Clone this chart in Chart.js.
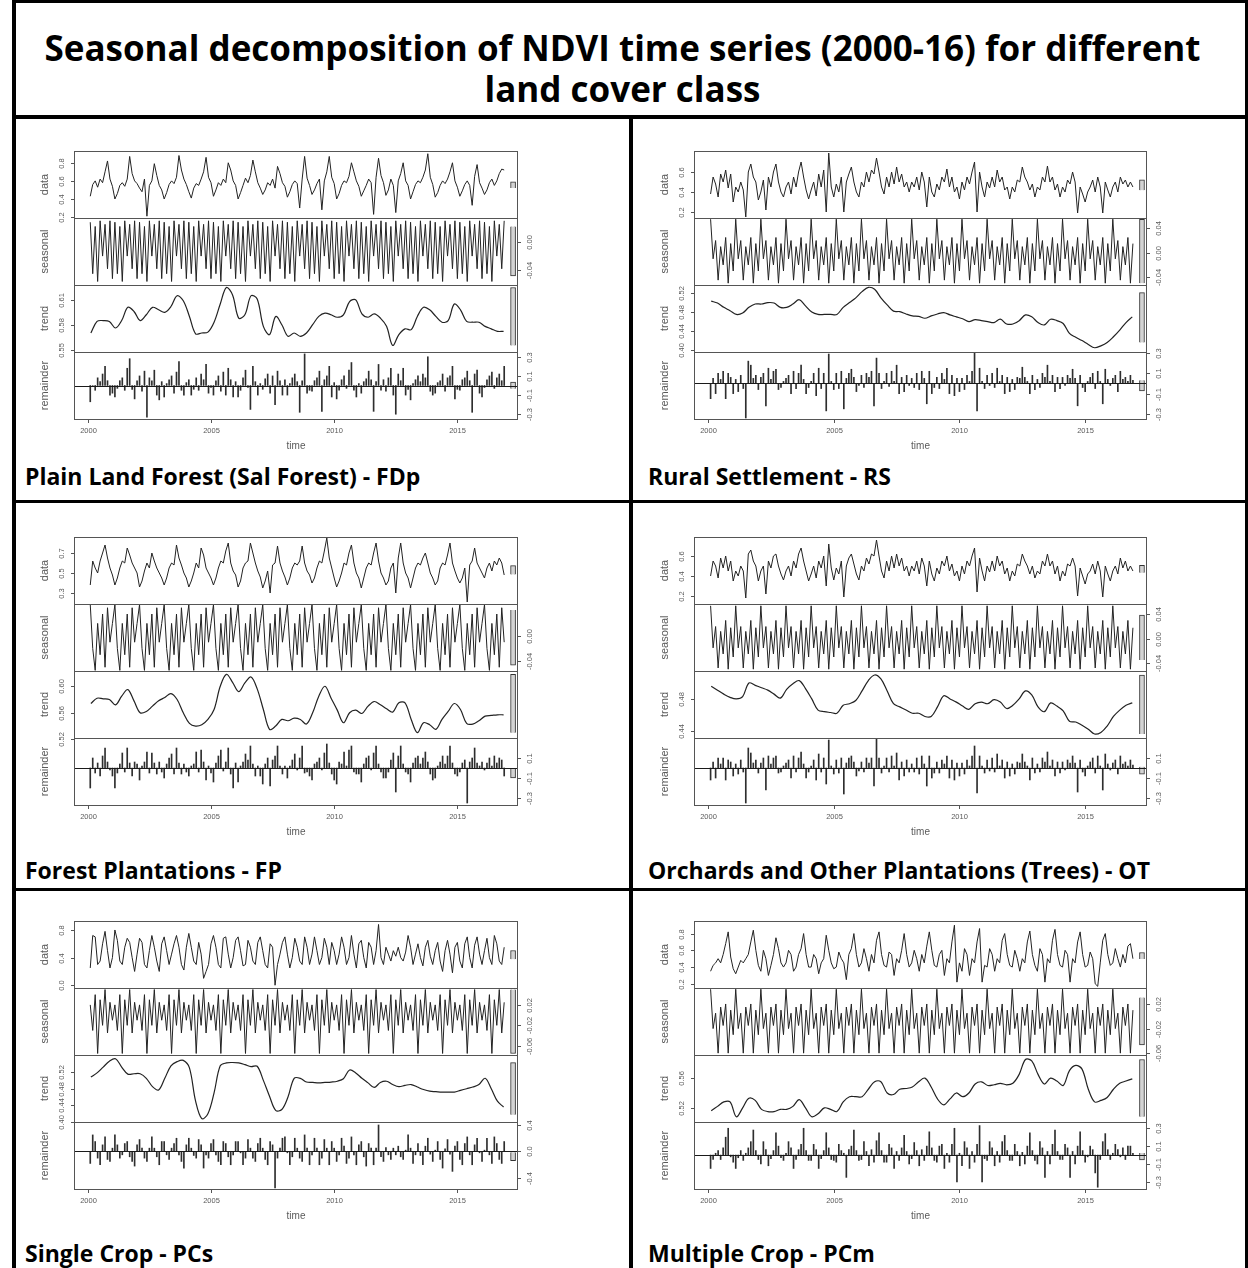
<!DOCTYPE html>
<html>
<head>
<meta charset="utf-8">
<title>Seasonal decomposition of NDVI time series</title>
<script src="https://cdn.jsdelivr.net/npm/chart.js@4.4.1/dist/chart.umd.min.js"></script>
<style>
  html, body { margin: 0; padding: 0; background: #fff; }
  #page { position: relative; width: 1248px; height: 1268px; overflow: hidden; background: #fff;
          font-family: "Open Sans", "Noto Sans", sans-serif; }
  .rule { position: absolute; background: #000; }
  .title { position: absolute; left: 16px; width: 1213px; text-align: center; font-weight: 700;
           font-size: 35px; line-height: 40px; white-space: nowrap; color: #000; }
  .cap { position: absolute; font-weight: 700; font-size: 23px; line-height: 23px; white-space: nowrap; color: #000; }
  canvas { position: absolute; }
</style>
</head>
<body>
<div id="page">
  <div class="rule" style="left:12px;top:0;width:1236px;height:3px"></div>
  <div class="rule" style="left:12px;top:0;width:4px;height:1268px"></div>
  <div class="rule" style="left:1245px;top:0;width:3px;height:1268px"></div>
  <div class="rule" style="left:12px;top:115px;width:1236px;height:4px"></div>
  <div class="rule" style="left:629px;top:115px;width:4px;height:1153px"></div>
  <div class="rule" style="left:12px;top:500px;width:1236px;height:3px"></div>
  <div class="rule" style="left:12px;top:888px;width:1236px;height:3px"></div>
  <div class="title" style="top:28px">Seasonal decomposition of NDVI time series (2000-16) for different</div>
  <div class="title" style="top:69px">land cover class</div>
</div>
<script>
// time base: 10 samples a year for data / seasonal / remainder, 4 a year for trend
const startYear = 2000.1, perYear = 10;
const trendStart = 2000.125, trendPerYear = 4;
const xTicks = [2000, 2005, 2010, 2015];
const xMin = 1999.44, xMax = 2017.46;
const componentNames = ['data', 'seasonal', 'trend', 'remainder'];

// ---- Plain Land Forest (Sal Forest) - FDp
const dataFDp = [
  .43,.56,.60,.53,.62,.58,.70,.82,.62,.54,
  .40,.46,.55,.58,.54,.62,.87,.68,.60,.57,
  .52,.48,.62,.21,.55,.60,.79,.66,.55,.50,
  .40,.47,.56,.60,.57,.64,.88,.72,.62,.56,
  .48,.41,.52,.57,.55,.62,.70,.86,.64,.58,
  .43,.50,.58,.55,.62,.58,.80,.72,.60,.55,
  .40,.47,.55,.63,.58,.66,.83,.70,.58,.52,
  .45,.50,.58,.55,.62,.52,.76,.68,.58,.54,
  .42,.48,.56,.60,.57,.30,.62,.87,.63,.55,
  .45,.50,.57,.62,.28,.60,.70,.87,.64,.57,
  .40,.46,.55,.60,.58,.65,.80,.70,.60,.54,
  .43,.49,.55,.62,.58,.23,.64,.85,.66,.58,
  .44,.50,.62,.55,.25,.60,.68,.80,.60,.55,
  .40,.48,.56,.60,.58,.64,.72,.90,.64,.56,
  .42,.47,.55,.60,.57,.62,.70,.80,.60,.53,
  .43,.49,.56,.60,.55,.33,.65,.78,.58,.52,
  .45,.50,.58,.62,.55,.60,.68,.73,.72
];
const seasonalFDp = [
  .028,-.045,.022,-.056,.03,-.02,.025,-.038,.03,-.052,
  .028,-.045,.022,-.056,.03,-.02,.025,-.038,.03,-.052,
  .028,-.045,.022,-.056,.03,-.02,.025,-.038,.03,-.052,
  .028,-.045,.022,-.056,.03,-.02,.025,-.038,.03,-.052,
  .028,-.045,.022,-.056,.03,-.02,.025,-.038,.03,-.052,
  .028,-.045,.022,-.056,.03,-.02,.025,-.038,.03,-.052,
  .028,-.045,.022,-.056,.03,-.02,.025,-.038,.03,-.052,
  .028,-.045,.022,-.056,.03,-.02,.025,-.038,.03,-.052,
  .028,-.045,.022,-.056,.03,-.02,.025,-.038,.03,-.052,
  .028,-.045,.022,-.056,.03,-.02,.025,-.038,.03,-.052,
  .028,-.045,.022,-.056,.03,-.02,.025,-.038,.03,-.052,
  .028,-.045,.022,-.056,.03,-.02,.025,-.038,.03,-.052,
  .028,-.045,.022,-.056,.03,-.02,.025,-.038,.03,-.052,
  .028,-.045,.022,-.056,.03,-.02,.025,-.038,.03,-.052,
  .028,-.045,.022,-.056,.03,-.02,.025,-.038,.03,-.052,
  .028,-.045,.022,-.056,.03,-.02,.025,-.038,.03,-.052,
  .028,-.045,.022,-.056,.03,-.02,.025,-.038,.03
];
const trendFDp = [
  .570,.584,.585,.584, .576,.585,.601,.596, .585,.592,.601,.598, .595,.602,.615,.609,
  .590,.569,.570,.571, .583,.605,.625,.616, .588,.592,.615,.611, .578,.568,.590,.580,
  .566,.570,.566,.570, .580,.590,.594,.592, .589,.592,.608,.610, .593,.589,.593,.588,
  .578,.555,.568,.575, .574,.590,.601,.598, .590,.583,.585,.605, .598,.584,.583,.583,
  .578,.575,.572,.572
];
const remainderFDp = [
  -.17,.0,-.05,.08,.04,.12,.2,.05,-.1,-.08,
  -.12,-.03,.05,.08,-.05,.18,.28,-.04,-.14,.05,
  .1,-.06,.15,-.33,.08,.05,.16,-.1,-.15,.04,
  -.12,.02,.06,.1,-.08,.14,.25,-.05,-.1,.03,
  .06,-.1,-.04,.08,-.05,.12,.06,.22,-.08,-.02,
  -.1,.05,.1,-.06,.14,-.1,.18,.06,-.12,.04,
  -.12,-.05,.08,.16,-.02,-.25,.2,.04,-.1,.02,
  -.04,.07,.12,-.08,.1,-.2,.15,.05,-.1,.06,
  -.1,.02,.08,.12,.04,-.28,.05,.33,-.08,-.05,
  -.06,.05,.08,.15,-.27,.06,.1,.2,-.12,.03,
  -.14,-.05,.06,.1,-.03,.16,.24,-.05,-.12,.02,
  -.08,.04,.07,.15,.06,-.27,.04,.22,-.05,.06,
  -.06,.08,.18,-.1,-.3,.12,.05,.18,-.1,-.04,
  -.15,.02,.06,.1,.04,.12,.08,.3,-.06,-.1,
  -.08,.03,.05,.12,-.06,.08,.1,.2,-.14,-.04,
  -.05,.06,.08,.15,.05,-.28,.12,.16,-.08,-.12,
  -.02,.06,.1,.14,-.03,.08,.12,.05,.2
];
const tickFDp = [['0.2','0.4','0.6','0.8'], ['-0.04','0.00'], ['0.55','0.58','0.61'], ['-0.3','-0.1','0.1','0.3']];
const rangeFDp = [[0.19, 0.93], [-0.061, 0.034], [0.547, 0.628], [-0.35, 0.35]];

// ---- Rural Settlement - RS
const dataRS = [
  .38,.55,.48,.35,.58,.5,.62,.44,.58,.3,
  .45,.4,.5,.42,.15,.6,.68,.55,.5,.32,
  .4,.52,.22,.55,.45,.6,.68,.5,.4,.35,
  .45,.5,.38,.55,.45,.6,.7,.55,.42,.33,
  .42,.5,.36,.58,.45,.62,.2,.79,.45,.35,
  .48,.4,.55,.2,.5,.58,.65,.5,.4,.35,
  .5,.45,.6,.5,.62,.58,.74,.6,.45,.38,
  .55,.45,.6,.48,.65,.5,.58,.45,.5,.4,
  .5,.45,.55,.42,.6,.5,.25,.55,.4,.35,
  .48,.42,.55,.5,.63,.45,.55,.4,.45,.33,
  .5,.42,.55,.48,.6,.7,.2,.6,.45,.35,
  .5,.44,.55,.45,.62,.5,.55,.42,.45,.33,
  .45,.4,.52,.5,.65,.55,.5,.42,.48,.35,
  .45,.42,.55,.5,.66,.5,.55,.42,.48,.35,
  .45,.4,.52,.48,.6,.5,.19,.45,.38,.3,
  .4,.45,.52,.4,.55,.45,.19,.5,.42,.35,
  .45,.5,.4,.55,.48,.52,.45,.5,.45
];
const seasonalRS = [
  .055,-.01,.02,-.045,.01,-.02,.025,-.05,.015,-.03,
  .055,-.01,.02,-.045,.01,-.02,.025,-.05,.015,-.03,
  .055,-.01,.02,-.045,.01,-.02,.025,-.05,.015,-.03,
  .055,-.01,.02,-.045,.01,-.02,.025,-.05,.015,-.03,
  .055,-.01,.02,-.045,.01,-.02,.025,-.05,.015,-.03,
  .055,-.01,.02,-.045,.01,-.02,.025,-.05,.015,-.03,
  .055,-.01,.02,-.045,.01,-.02,.025,-.05,.015,-.03,
  .055,-.01,.02,-.045,.01,-.02,.025,-.05,.015,-.03,
  .055,-.01,.02,-.045,.01,-.02,.025,-.05,.015,-.03,
  .055,-.01,.02,-.045,.01,-.02,.025,-.05,.015,-.03,
  .055,-.01,.02,-.045,.01,-.02,.025,-.05,.015,-.03,
  .055,-.01,.02,-.045,.01,-.02,.025,-.05,.015,-.03,
  .055,-.01,.02,-.045,.01,-.02,.025,-.05,.015,-.03,
  .055,-.01,.02,-.045,.01,-.02,.025,-.05,.015,-.03,
  .055,-.01,.02,-.045,.01,-.02,.025,-.05,.015,-.03,
  .055,-.01,.02,-.045,.01,-.02,.025,-.05,.015,-.03,
  .055,-.01,.02,-.045,.01,-.02,.025,-.05,.015
];
const trendRS = [
  .503,.499,.490,.483, .475,.478,.490,.497, .497,.500,.499,.490, .490,.497,.506,.493,
  .480,.475,.475,.475, .475,.490,.500,.510, .523,.532,.528,.510, .495,.482,.481,.476,
  .472,.471,.467,.472, .476,.479,.474,.470, .466,.460,.464,.462, .460,.458,.465,.455,
  .455,.462,.474,.470, .458,.453,.465,.462, .456,.435,.427,.420, .412,.405,.409,.416,
  .428,.442,.458,.470
];
const remainderRS = [
  -.15,.05,-.1,.1,.04,.12,-.15,.1,.06,-.1,
  .04,-.08,.08,-.05,-.34,.22,.18,.05,.08,-.06,
  .06,.1,-.22,.15,.04,.12,.14,-.06,-.04,.02,
  .05,.08,-.1,.12,-.05,.1,.18,.04,-.1,-.04,
  .02,.1,-.12,.15,-.05,.1,-.27,.29,.02,-.06,
  .1,-.05,.12,-.25,.05,.1,.14,.06,-.08,-.02,
  .08,-.04,.1,.06,.12,-.22,.25,.1,-.05,.02,
  .1,-.03,.12,.02,.18,-.1,.06,-.08,.08,-.02,
  .05,-.04,.1,-.06,.12,.05,-.2,.12,-.1,-.04,
  .06,-.05,.1,.04,.15,-.1,.08,-.12,.05,-.08,
  .05,-.06,.08,.02,.12,.3,-.27,.15,.02,-.05,
  .08,-.02,.1,-.04,.15,.02,.08,-.1,.06,-.08,
  .04,-.06,.06,.05,.16,.06,.02,-.1,.08,-.06,
  .04,-.04,.1,.06,.18,.02,.08,-.08,.06,-.05,
  .06,-.02,.08,.05,.14,.05,-.22,.08,-.04,-.08,
  .02,.06,.1,-.05,.12,.02,-.2,.14,.04,-.02,
  .05,.08,-.08,.12,.04,.06,.02,.08,.03
];
const tickRS = [['0.2','0.4','0.6'], ['-0.04','0.00','0.04'], ['0.40','0.44','0.48','0.52'], ['-0.3','-0.1','0.1','0.3']];
const rangeRS = [[0.14, 0.81], [-0.053, 0.057], [0.396, 0.537], [-0.35, 0.31]];

// ---- Forest Plantations - FP
const dataFP = [
  .38,.62,.55,.5,.62,.7,.78,.65,.55,.48,
  .38,.45,.55,.62,.6,.75,.68,.6,.55,.5,
  .36,.42,.52,.6,.55,.7,.62,.55,.5,.45,
  .38,.45,.55,.6,.58,.78,.65,.58,.5,.45,
  .36,.42,.5,.6,.55,.75,.68,.55,.5,.45,
  .38,.45,.55,.62,.6,.72,.8,.6,.52,.48,
  .36,.42,.55,.6,.62,.8,.7,.6,.52,.46,
  .35,.42,.52,.3,.58,.6,.77,.6,.52,.46,
  .38,.45,.55,.6,.58,.62,.77,.6,.52,.48,
  .4,.45,.55,.62,.6,.72,.85,.65,.55,.45,
  .36,.42,.5,.6,.58,.7,.78,.6,.5,.45,
  .35,.45,.55,.6,.58,.7,.8,.62,.5,.45,
  .38,.42,.55,.6,.3,.65,.8,.6,.5,.45,
  .35,.45,.55,.6,.58,.65,.7,.6,.5,.45,
  .38,.42,.55,.6,.58,.68,.8,.6,.52,.45,
  .4,.45,.55,.21,.58,.62,.75,.6,.55,.5,
  .45,.55,.6,.52,.62,.58,.65,.6,.48
];
const seasonalFP = [
  .05,-.02,-.055,.02,-.03,.035,-.05,.045,-.01,.02,
  .05,-.02,-.055,.02,-.03,.035,-.05,.045,-.01,.02,
  .05,-.02,-.055,.02,-.03,.035,-.05,.045,-.01,.02,
  .05,-.02,-.055,.02,-.03,.035,-.05,.045,-.01,.02,
  .05,-.02,-.055,.02,-.03,.035,-.05,.045,-.01,.02,
  .05,-.02,-.055,.02,-.03,.035,-.05,.045,-.01,.02,
  .05,-.02,-.055,.02,-.03,.035,-.05,.045,-.01,.02,
  .05,-.02,-.055,.02,-.03,.035,-.05,.045,-.01,.02,
  .05,-.02,-.055,.02,-.03,.035,-.05,.045,-.01,.02,
  .05,-.02,-.055,.02,-.03,.035,-.05,.045,-.01,.02,
  .05,-.02,-.055,.02,-.03,.035,-.05,.045,-.01,.02,
  .05,-.02,-.055,.02,-.03,.035,-.05,.045,-.01,.02,
  .05,-.02,-.055,.02,-.03,.035,-.05,.045,-.01,.02,
  .05,-.02,-.055,.02,-.03,.035,-.05,.045,-.01,.02,
  .05,-.02,-.055,.02,-.03,.035,-.05,.045,-.01,.02,
  .05,-.02,-.055,.02,-.03,.035,-.05,.045,-.01,.02,
  .05,-.02,-.055,.02,-.03,.035,-.05,.045,-.01
];
const trendFP = [
  .574,.582,.581,.580, .572,.585,.595,.578, .560,.562,.570,.578, .583,.589,.580,.560,
  .544,.540,.542,.550, .565,.600,.618,.606, .592,.605,.614,.596, .565,.535,.540,.550,
  .548,.552,.550,.543, .560,.585,.600,.582, .564,.545,.560,.564, .559,.570,.577,.572,
  .566,.561,.575,.575, .550,.530,.545,.542, .535,.550,.562,.574, .565,.544,.543,.548,
  .555,.556,.557,.557
];
const remainderFP = [
  -.2,.1,-.05,.05,-.08,.12,.2,.06,-.02,-.08,
  -.2,-.05,.04,.15,-.04,.2,.05,-.08,.06,.04,
  -.12,.02,.06,.16,-.05,.15,.05,-.06,.06,-.04,
  -.1,.04,.1,.14,-.06,.2,.05,-.06,.04,-.04,
  -.08,.02,.04,.16,-.04,.18,.06,-.12,.02,-.05,
  -.14,.05,.12,.18,-.03,.06,.2,-.06,-.2,.05,
  -.14,.02,.06,.14,.08,.22,.04,-.08,.02,-.08,
  -.16,.04,.1,-.18,.08,.12,.22,.02,-.06,.02,
  -.1,.02,.08,.14,-.02,.1,.22,-.05,-.04,-.08,
  -.12,.04,.06,.1,-.02,.15,.24,.05,-.06,-.12,
  -.16,.06,.04,.16,.02,.18,.22,-.04,-.06,-.06,
  -.14,.04,.1,.12,-.02,.15,.22,.04,-.04,-.1,
  -.1,-.04,.08,.15,-.24,.12,.22,.04,-.04,-.06,
  -.14,.05,.1,.12,.04,.1,.16,.06,-.06,-.12,
  -.1,.02,.06,.12,.04,.12,.22,.05,-.06,-.08,
  -.04,.05,.08,-.35,.06,.1,.2,.05,.02,.06,
  -.02,.05,.1,.02,.12,.05,.1,.08,-.08
];
const tickFP = [['0.3','0.5','0.7'], ['-0.04','0.00'], ['0.52','0.56','0.60'], ['-0.3','-0.1','0.1']];
const rangeFP = [[0.19, 0.86], [-0.056, 0.051], [0.522, 0.623], [-0.37, 0.30]];

// ---- Orchards and Other Plantations (Trees) - OT
const dataOT = [
  .4,.55,.5,.38,.58,.48,.6,.45,.55,.35,
  .45,.4,.5,.45,.18,.62,.66,.55,.5,.35,
  .45,.5,.22,.55,.48,.6,.62,.5,.42,.36,
  .45,.5,.4,.55,.48,.62,.68,.55,.45,.35,
  .42,.5,.38,.55,.48,.6,.3,.72,.48,.36,
  .48,.42,.55,.19,.5,.58,.62,.52,.42,.36,
  .5,.45,.58,.52,.62,.6,.76,.6,.45,.38,
  .55,.45,.6,.48,.62,.5,.58,.45,.5,.4,
  .5,.45,.55,.42,.58,.5,.3,.55,.42,.35,
  .48,.42,.55,.5,.6,.45,.52,.4,.45,.35,
  .5,.42,.55,.5,.6,.68,.24,.58,.45,.35,
  .5,.44,.55,.45,.6,.5,.55,.42,.48,.35,
  .45,.4,.52,.5,.62,.55,.5,.42,.5,.38,
  .45,.42,.55,.5,.62,.5,.55,.42,.5,.35,
  .45,.4,.52,.5,.58,.5,.2,.48,.4,.32,
  .42,.45,.52,.42,.55,.45,.19,.5,.42,.35,
  .45,.5,.42,.58,.48,.55,.45,.5,.45
];
const seasonalOT = [
  .054,-.015,.02,-.048,.012,-.025,.03,-.05,.018,-.03,
  .054,-.015,.02,-.048,.012,-.025,.03,-.05,.018,-.03,
  .054,-.015,.02,-.048,.012,-.025,.03,-.05,.018,-.03,
  .054,-.015,.02,-.048,.012,-.025,.03,-.05,.018,-.03,
  .054,-.015,.02,-.048,.012,-.025,.03,-.05,.018,-.03,
  .054,-.015,.02,-.048,.012,-.025,.03,-.05,.018,-.03,
  .054,-.015,.02,-.048,.012,-.025,.03,-.05,.018,-.03,
  .054,-.015,.02,-.048,.012,-.025,.03,-.05,.018,-.03,
  .054,-.015,.02,-.048,.012,-.025,.03,-.05,.018,-.03,
  .054,-.015,.02,-.048,.012,-.025,.03,-.05,.018,-.03,
  .054,-.015,.02,-.048,.012,-.025,.03,-.05,.018,-.03,
  .054,-.015,.02,-.048,.012,-.025,.03,-.05,.018,-.03,
  .054,-.015,.02,-.048,.012,-.025,.03,-.05,.018,-.03,
  .054,-.015,.02,-.048,.012,-.025,.03,-.05,.018,-.03,
  .054,-.015,.02,-.048,.012,-.025,.03,-.05,.018,-.03,
  .054,-.015,.02,-.048,.012,-.025,.03,-.05,.018,-.03,
  .054,-.015,.02,-.048,.012,-.025,.03,-.05,.018
];
const trendOT = [
  .496,.491,.486,.482, .480,.483,.500,.497, .494,.491,.486,.481, .492,.499,.503,.493,
  .480,.466,.464,.463, .462,.472,.474,.478, .490,.503,.510,.505, .490,.474,.470,.466,
  .462,.462,.458,.458, .470,.484,.480,.476, .471,.467,.474,.476, .474,.479,.476,.468,
  .472,.480,.490,.485, .470,.464,.475,.471, .465,.452,.451,.447, .442,.436,.438,.446,
  .458,.466,.472,.475
];
const remainderOT = [
  -.12,.06,-.1,.1,.04,.1,-.12,.08,.06,-.08,
  .04,-.06,.08,-.04,-.35,.2,.15,.05,.08,-.05,
  .05,.1,-.22,.12,.04,.1,.12,-.05,-.04,.02,
  .05,.08,-.1,.12,-.04,.1,.16,.04,-.1,-.04,
  .02,.08,-.12,.14,-.04,.1,-.16,.28,.02,-.06,
  .08,-.05,.1,-.26,.05,.1,.12,.06,-.08,-.03,
  .06,-.04,.1,.05,.1,-.18,.3,.1,-.05,.02,
  .1,-.04,.12,.02,.15,-.12,.06,-.08,.08,-.04,
  .04,-.04,.1,-.06,.12,.04,-.18,.12,-.1,-.05,
  .06,-.05,.08,.04,.12,-.1,.08,-.12,.05,-.08,
  .05,-.06,.08,.02,.12,.22,-.25,.12,.02,-.05,
  .08,-.03,.1,-.04,.14,.02,.08,-.1,.06,-.08,
  .04,-.06,.06,.05,.14,.06,.02,-.12,.1,-.05,
  .04,-.04,.1,.06,.16,.02,.08,-.08,.06,-.05,
  .06,-.02,.08,.05,.12,.05,-.24,.08,-.04,-.08,
  .02,.06,.1,-.05,.12,.02,-.22,.14,.04,-.02,
  .05,.08,-.06,.12,.04,.06,.02,.08,.03
];
const tickOT = [['0.2','0.4','0.6'], ['-0.04','0.00','0.04'], ['0.44','0.48'], ['-0.3','-0.1','0.1']];
const rangeOT = [[0.12, 0.79], [-0.053, 0.057], [0.431, 0.515], [-0.37, 0.30]];

// ---- Single Crop - PCs
const dataPCs = [
  .25,.72,.7,.3,.35,.6,.78,.5,.25,.4,
  .8,.65,.35,.3,.55,.68,.62,.4,.2,.45,
  .68,.62,.3,.25,.5,.72,.55,.35,.2,.6,
  .7,.5,.3,.45,.6,.72,.55,.3,.22,.55,
  .75,.55,.35,.3,.62,.45,.1,.2,.3,.6,
  .72,.55,.3,.25,.68,.7,.45,.25,.4,.65,
  .7,.5,.28,.3,.65,.55,.35,.3,.62,.7,
  .5,.3,.25,.6,.55,.0,.3,.45,.62,.7,
  .45,.25,.4,.68,.55,.35,.3,.7,.55,.3,
  .45,.7,.5,.3,.4,.68,.55,.3,.62,.5,
  .3,.45,.7,.55,.3,.4,.72,.45,.25,.6,
  .65,.4,.25,.62,.55,.3,.5,.88,.4,.3,
  .55,.45,.35,.5,.42,.55,.4,.35,.48,.72,
  .55,.3,.45,.6,.4,.28,.55,.65,.42,.3,
  .5,.62,.35,.2,.5,.65,.45,.18,.55,.62,
  .35,.25,.6,.7,.4,.25,.58,.7,.45,.3,
  .5,.68,.4,.3,.72,.6,.35,.3,.55
];
const seasonalPCs = [
  .02,-.03,.04,-.075,.03,-.02,.05,-.035,.025,-.01,
  .02,-.03,.04,-.075,.03,-.02,.05,-.035,.025,-.01,
  .02,-.03,.04,-.075,.03,-.02,.05,-.035,.025,-.01,
  .02,-.03,.04,-.075,.03,-.02,.05,-.035,.025,-.01,
  .02,-.03,.04,-.075,.03,-.02,.05,-.035,.025,-.01,
  .02,-.03,.04,-.075,.03,-.02,.05,-.035,.025,-.01,
  .02,-.03,.04,-.075,.03,-.02,.05,-.035,.025,-.01,
  .02,-.03,.04,-.075,.03,-.02,.05,-.035,.025,-.01,
  .02,-.03,.04,-.075,.03,-.02,.05,-.035,.025,-.01,
  .02,-.03,.04,-.075,.03,-.02,.05,-.035,.025,-.01,
  .02,-.03,.04,-.075,.03,-.02,.05,-.035,.025,-.01,
  .02,-.03,.04,-.075,.03,-.02,.05,-.035,.025,-.01,
  .02,-.03,.04,-.075,.03,-.02,.05,-.035,.025,-.01,
  .02,-.03,.04,-.075,.03,-.02,.05,-.035,.025,-.01,
  .02,-.03,.04,-.075,.03,-.02,.05,-.035,.025,-.01,
  .02,-.03,.04,-.075,.03,-.02,.05,-.035,.025,-.01,
  .02,-.03,.04,-.075,.03,-.02,.05,-.035,.025
];
const trendPCs = [
  .508,.518,.532,.546, .552,.532,.515,.516, .516,.505,.485,.477, .505,.535,.545,.548,
  .530,.450,.408,.420, .470,.535,.542,.543, .542,.538,.533,.534, .500,.462,.428,.430,
  .460,.505,.505,.496, .495,.494,.495,.496, .498,.504,.525,.518, .505,.494,.483,.495,
  .498,.490,.485,.488, .490,.484,.478,.474, .473,.472,.472,.472, .476,.480,.484,.490,
  .505,.480,.450,.436
];
const remainderPCs = [
  -.18,.25,.15,-.1,-.2,.1,.22,-.12,-.15,.05,
  .25,.1,-.1,-.05,.12,.15,-.08,-.15,-.22,.1,
  .18,.05,-.1,-.15,.05,.22,.05,-.08,-.2,.15,
  .15,-.05,-.12,.05,.12,.2,-.05,-.15,-.25,.1,
  .2,.05,-.06,-.1,.18,.1,-.25,-.05,-.1,.12,
  .18,-.05,-.15,-.2,.15,.12,-.08,-.2,-.05,.15,
  .15,-.02,-.2,-.1,.18,.05,-.1,-.15,.12,.2,
  .05,-.12,-.2,.15,.1,-.55,-.1,.05,.2,.22,
  -.02,-.2,-.08,.2,.05,-.1,-.15,.25,.05,-.2,
  -.05,.2,.05,-.2,-.1,.18,.05,-.2,.15,.05,
  -.15,-.05,.2,.08,-.18,-.1,.22,-.05,-.2,.1,
  .15,-.08,-.22,.12,.05,-.2,.05,.4,-.08,-.15,
  .06,-.05,-.12,.05,-.05,.08,-.08,-.12,.02,.25,
  .05,-.18,-.05,.12,-.06,-.2,.08,.2,-.04,-.15,
  .02,.15,-.12,-.25,.04,.18,-.04,-.3,.08,.15,
  -.12,-.2,.12,.22,-.05,-.2,.1,.2,-.02,-.15,
  .02,.2,-.05,-.18,.22,.12,-.12,-.18,.15
];
const tickPCs = [['0.0','0.4','0.8'], ['-0.06','-0.02','0.02'], ['0.40','0.44','0.48','0.52'], ['-0.4','0.0','0.4']];
const rangePCs = [[-0.04, 0.93], [-0.078, 0.053], [0.40, 0.561], [-0.566, 0.445]];

// ---- Multiple Crop - PCm
const dataPCm = [
  .35,.42,.45,.5,.45,.55,.68,.82,.52,.38,
  .32,.4,.48,.45,.5,.55,.7,.84,.6,.42,
  .35,.6,.5,.3,.42,.55,.75,.62,.45,.4,
  .45,.6,.55,.35,.4,.55,.62,.8,.55,.4,
  .4,.55,.5,.32,.45,.5,.78,.6,.45,.38,
  .4,.58,.5,.45,.25,.55,.62,.8,.55,.4,
  .45,.62,.5,.35,.55,.45,.72,.82,.55,.42,
  .4,.58,.55,.3,.5,.45,.6,.8,.55,.4,
  .45,.6,.5,.35,.55,.45,.65,.82,.6,.42,
  .4,.55,.6,.3,.5,.45,.7,.9,.22,.45,
  .35,.62,.55,.3,.5,.45,.7,.86,.22,.42,
  .4,.62,.55,.35,.5,.45,.72,.8,.55,.42,
  .4,.6,.5,.35,.5,.45,.7,.83,.55,.42,
  .35,.62,.55,.22,.5,.45,.72,.85,.55,.42,
  .4,.6,.55,.22,.5,.45,.7,.82,.55,.4,
  .42,.58,.5,.2,.17,.45,.72,.8,.55,.42,
  .45,.62,.5,.4,.55,.45,.65,.68,.5
];
const seasonalPCm = [
  .044,-.02,.005,-.06,.015,-.015,.02,-.06,.01,-.03,
  .044,-.02,.005,-.06,.015,-.015,.02,-.06,.01,-.03,
  .044,-.02,.005,-.06,.015,-.015,.02,-.06,.01,-.03,
  .044,-.02,.005,-.06,.015,-.015,.02,-.06,.01,-.03,
  .044,-.02,.005,-.06,.015,-.015,.02,-.06,.01,-.03,
  .044,-.02,.005,-.06,.015,-.015,.02,-.06,.01,-.03,
  .044,-.02,.005,-.06,.015,-.015,.02,-.06,.01,-.03,
  .044,-.02,.005,-.06,.015,-.015,.02,-.06,.01,-.03,
  .044,-.02,.005,-.06,.015,-.015,.02,-.06,.01,-.03,
  .044,-.02,.005,-.06,.015,-.015,.02,-.06,.01,-.03,
  .044,-.02,.005,-.06,.015,-.015,.02,-.06,.01,-.03,
  .044,-.02,.005,-.06,.015,-.015,.02,-.06,.01,-.03,
  .044,-.02,.005,-.06,.015,-.015,.02,-.06,.01,-.03,
  .044,-.02,.005,-.06,.015,-.015,.02,-.06,.01,-.03,
  .044,-.02,.005,-.06,.015,-.015,.02,-.06,.01,-.03,
  .044,-.02,.005,-.06,.015,-.015,.02,-.06,.01,-.03,
  .044,-.02,.005,-.06,.015,-.015,.02,-.06,.01
];
const trendPCm = [
  .516,.522,.528,.528, .508,.520,.533,.530, .518,.515,.515,.518, .518,.522,.531,.520,
  .508,.512,.520,.518, .515,.528,.535,.535, .535,.545,.555,.555, .540,.538,.545,.546,
  .548,.555,.560,.548, .532,.524,.532,.540, .535,.540,.552,.555, .550,.551,.553,.551,
  .553,.565,.585,.583, .565,.552,.560,.556, .550,.570,.577,.572, .545,.528,.530,.534,
  .545,.553,.556,.559
];
const remainderPCm = [
  -.15,-.05,.02,.05,-.05,.08,.2,.3,-.02,-.08,
  -.15,-.03,.05,-.06,.02,.08,.15,.28,.05,-.05,
  -.1,.15,.06,-.12,-.04,.05,.25,.1,-.03,-.06,
  .02,.15,.08,-.15,-.05,.06,.12,.3,.05,-.06,
  -.06,.12,.06,-.15,-.04,.05,.25,.08,-.05,-.06,
  -.08,.12,.05,.02,-.25,.06,.1,.28,.05,-.06,
  -.05,.15,.04,-.12,.06,-.08,.16,.25,.05,-.08,
  -.08,.12,.08,-.15,.04,-.06,.08,.22,.04,-.1,
  -.04,.14,.05,-.12,.06,-.06,.1,.26,.08,-.06,
  -.08,.1,.12,-.15,.02,-.08,.12,.3,-.3,.02,
  -.12,.15,.08,-.15,.04,-.08,.12,.33,-.3,-.04,
  -.06,.15,.08,-.12,.04,-.08,.15,.22,.05,-.06,
  -.06,.12,.04,-.12,.03,-.1,.1,.25,.05,-.06,
  -.1,.15,.08,-.25,.04,-.1,.12,.28,.04,-.05,
  -.05,.12,.08,-.25,.04,-.1,.1,.26,.05,-.08,
  -.02,.1,.06,-.2,-.36,-.05,.15,.24,.06,-.05,
  .02,.12,.06,-.02,.08,-.05,.1,.1,.02
];
const tickPCm = [['0.2','0.4','0.6','0.8'], ['-0.06','-0.02','0.02'], ['0.52','0.56'], ['-0.3','-0.1','0.1','0.3']];
const rangePCm = [[0.15, 0.95], [-0.063, 0.046], [0.501, 0.591], [-0.38, 0.37]];

const panels = [
  { caption: 'Plain Land Forest (Sal Forest) - FDp', col: 0, row: 0, series: [dataFDp, seasonalFDp, trendFDp, remainderFDp], ticks: tickFDp, range: rangeFDp },
  { caption: 'Rural Settlement - RS', col: 1, row: 0, series: [dataRS, seasonalRS, trendRS, remainderRS], ticks: tickRS, range: rangeRS },
  { caption: 'Forest Plantations - FP', col: 0, row: 1, series: [dataFP, seasonalFP, trendFP, remainderFP], ticks: tickFP, range: rangeFP },
  { caption: 'Orchards and Other Plantations (Trees) - OT', col: 1, row: 1, series: [dataOT, seasonalOT, trendOT, remainderOT], ticks: tickOT, range: rangeOT },
  { caption: 'Single Crop - PCs', col: 0, row: 2, series: [dataPCs, seasonalPCs, trendPCs, remainderPCs], ticks: tickPCs, range: rangePCs },
  { caption: 'Multiple Crop - PCm', col: 1, row: 2, series: [dataPCm, seasonalPCm, trendPCm, remainderPCm], ticks: tickPCm, range: rangePCm }
];

// layout of the pasted R figures
const colFrame = [[74, 518], [694, 1147]];
const rowTop = [151, 537, 921];
const subH = 67;
const padX = 44;
const padY = 11;
const captionLeft = [25, 648];
const captionTop = [465, 859, 1242];

const axisFont = '"Liberation Sans", Arial, sans-serif';
const inkGrey = '#5a5a5a';

// R-style axes: frame, rotated y labels, zero line, bottom time axis
const rAxes = {
  id: 'rAxes',
  afterDraw(chart, args, o) {
    if (!o || !o.title) return;
    const { ctx, chartArea: a } = chart;
    const ys = chart.scales.y, xs = chart.scales.x;
    ctx.save();
    ctx.lineWidth = 1;
    if (o.zero) {
      const y0 = Math.round(ys.getPixelForValue(0)) + 0.5;
      ctx.strokeStyle = '#1a1a1a';
      ctx.beginPath(); ctx.moveTo(a.left, y0); ctx.lineTo(a.right, y0); ctx.stroke();
    }
    ctx.strokeStyle = '#555';
    ctx.strokeRect(a.left + 0.5, a.top + 0.5, a.right - a.left - 1, a.bottom - a.top);

    ctx.fillStyle = inkGrey;
    ctx.textAlign = 'center';
    ctx.textBaseline = 'middle';
    ctx.font = '7.5px ' + axisFont;
    const right = o.side === 'right';
    const ex = right ? a.right : a.left;
    const dir = right ? 1 : -1;
    o.ticks.forEach(lab => {
      const py = Math.round(ys.getPixelForValue(parseFloat(lab))) + 0.5;
      ctx.beginPath(); ctx.moveTo(ex, py); ctx.lineTo(ex + dir * 3, py); ctx.stroke();
      ctx.save();
      ctx.translate(ex + dir * 12, py);
      ctx.rotate(-Math.PI / 2);
      ctx.fillText(lab, 0, 0);
      ctx.restore();
    });
    ctx.font = '11px ' + axisFont;
    ctx.save();
    ctx.translate(a.left - 29, (a.top + a.bottom) / 2);
    ctx.rotate(-Math.PI / 2);
    ctx.fillText(o.title, 0, 0);
    ctx.restore();

    if (o.timeAxis) {
      ctx.font = '7.5px ' + axisFont;
      xTicks.forEach(v => {
        const px = Math.round(xs.getPixelForValue(v)) + 0.5;
        ctx.beginPath(); ctx.moveTo(px, a.bottom); ctx.lineTo(px, a.bottom + 4); ctx.stroke();
        ctx.fillText(String(v), px, a.bottom + 12);
      });
      ctx.font = '10px ' + axisFont;
      ctx.fillText('time', (a.left + a.right) / 2, a.bottom + 27);
    }
    ctx.restore();
  }
};
Chart.register(rAxes);

const page = document.getElementById('page');
const spread = arr => Math.max(...arr) - Math.min(...arr);

panels.forEach(p => {
  const [fl, fr] = colFrame[p.col];
  const top0 = rowTop[p.row];
  // R draws range bars of equal data length: the smallest component range
  const barLen = Math.min(...p.series.map(spread));

  const cap = document.createElement('div');
  cap.className = 'cap';
  cap.style.left = captionLeft[p.col] + 'px';
  cap.style.top = captionTop[p.row] + 'px';
  cap.textContent = p.caption;
  page.appendChild(cap);

  p.series.forEach((vals, k) => {
    const isTrend = k === 2, isRem = k === 3, last = k === 3;
    const start = isTrend ? trendStart : startYear;
    const per = isTrend ? trendPerYear : perYear;
    const pts = vals.map((v, i) => ({ x: start + i / per, y: v }));
    const mid = (Math.max(...vals) + Math.min(...vals)) / 2;

    const padTop = padY, padBot = last ? 42 : padY;
    const cv = document.createElement('canvas');
    cv.width = fr - fl + 2 * padX;
    cv.height = subH + padTop + padBot;
    cv.style.left = (fl - padX) + 'px';
    cv.style.top = (top0 + k * subH - padTop) + 'px';
    page.appendChild(cv);

    const series = isRem
      ? { type: 'bar', data: pts, backgroundColor: '#2e2e2e', barThickness: 1, grouped: false }
      : { type: 'line', data: pts, borderColor: '#222', borderWidth: isTrend ? 1.2 : 1,
          pointRadius: 0, tension: isTrend ? 0.35 : 0, fill: false };

    new Chart(cv, {
      type: 'bar',
      data: {
        datasets: [
          series,
          { type: 'bar', data: [{ x: xMax - 0.2, y: [mid - barLen / 2, mid + barLen / 2] }],
            backgroundColor: '#d3d3d3', borderColor: '#333', borderWidth: 1,
            barThickness: 5, grouped: false }
        ]
      },
      options: {
        responsive: false,
        animation: false,
        devicePixelRatio: 1,
        layout: { padding: { left: padX, right: padX, top: padTop, bottom: padBot } },
        scales: {
          x: { type: 'linear', min: xMin, max: xMax, offset: false, display: false },
          y: { type: 'linear', min: p.range[k][0], max: p.range[k][1], display: false }
        },
        plugins: {
          legend: { display: false },
          tooltip: { enabled: false },
          rAxes: {
            title: componentNames[k],
            ticks: p.ticks[k],
            side: (k % 2 === 0) ? 'left' : 'right',
            zero: isRem,
            timeAxis: last
          }
        }
      }
    });
  });
});
</script>
</body>
</html>
